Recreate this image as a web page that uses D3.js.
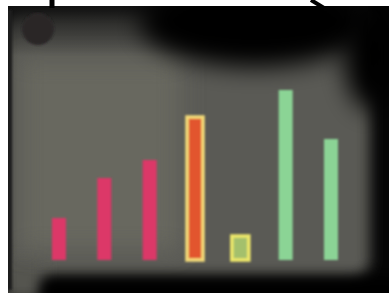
<!DOCTYPE html>
<html>
<head>
<meta charset="utf-8">
<script src="https://cdn.jsdelivr.net/npm/d3@7"></script>
<style>
  body { margin: 0; background: #fff; }
  svg { display: block; }
</style>
</head>
<body>
<div id="chart"></div>
<script>
// bars, left to right
const categories = ['A', 'B', 'C', 'D', 'E', 'F', 'G'];
const values = [42, 82, 100, 143, 24, 170, 121];
const groups = ['pink', 'pink', 'pink', 'orange', 'small', 'green', 'green'];

const width = 389;
const height = 293;

const svg = d3.select('#chart')
    .append('svg')
        .attr('viewBox', [0, 0, width, height])
        .attr('width', width)
        .attr('height', height);

const defs = svg.append('defs');
const blur = (id, sd) => defs.append('filter').attr('id', id)
    .attr('filterUnits', 'userSpaceOnUse')
    .attr('x', -100).attr('y', -100).attr('width', width + 200).attr('height', height + 200)
    .append('feGaussianBlur').attr('stdDeviation', sd);
blur('blurBig', 12);
blur('blurMid', 7);
blur('soft', 0.8);

const clip = defs.append('clipPath').attr('id', 'screenClip');
clip.append('rect')
    .attr('x', 8).attr('y', 6).attr('width', width - 8).attr('height', height - 6);

// top shade of the glass
const topShade = defs.append('linearGradient')
    .attr('id', 'topShade')
    .attr('x1', 0).attr('y1', 0).attr('x2', 0).attr('y2', 1);
topShade.append('stop').attr('offset', '0%').attr('stop-color', '#111').attr('stop-opacity', 0.9);
topShade.append('stop').attr('offset', '100%').attr('stop-color', '#111').attr('stop-opacity', 0);

// screen background: black frame, grey glass, dark patches on top
const screen = svg.append('g').attr('clip-path', 'url(#screenClip)');
screen.append('rect')
    .attr('x', 8).attr('y', 6).attr('width', width - 8).attr('height', height - 6)
    .attr('fill', '#050505');
screen.append('rect')
    .attr('x', 4).attr('y', 10).attr('width', 366).attr('height', 270)
    .attr('rx', 20)
    .attr('fill', '#5a5a54')
    .attr('filter', 'url(#blurMid)');
screen.append('rect')
    .attr('x', 4).attr('y', 260).attr('width', 40).attr('height', 40)
    .attr('fill', '#555550')
    .attr('filter', 'url(#blurMid)');
screen.append('rect')
    .attr('x', 20).attr('y', 60).attr('width', 160).attr('height', 190)
    .attr('fill', '#67675f')
    .attr('filter', 'url(#blurBig)');
screen.append('rect')
    .attr('x', 8).attr('y', 6).attr('width', 360).attr('height', 50)
    .attr('fill', 'url(#topShade)');
screen.append('ellipse')
    .attr('cx', 255).attr('cy', 22).attr('rx', 115).attr('ry', 45)
    .attr('fill', '#030303')
    .attr('filter', 'url(#blurBig)');
screen.append('ellipse')
    .attr('cx', 372).attr('cy', 55).attr('rx', 28).attr('ry', 55)
    .attr('fill', '#030303')
    .attr('filter', 'url(#blurBig)');
screen.append('rect')
    .attr('x', 40).attr('y', 276).attr('width', 360).attr('height', 30)
    .attr('rx', 12)
    .attr('fill', '#020202')
    .attr('filter', 'url(#blurMid)');
screen.append('rect')
    .attr('x', 6).attr('y', 10).attr('width', 6).attr('height', 280)
    .attr('fill', '#1e1e1c')
    .attr('filter', 'url(#soft)');
screen.append('circle')
    .attr('cx', 38).attr('cy', 29).attr('r', 16)
    .attr('fill', '#2a2628')
    .attr('filter', 'url(#soft)');

// the wires at the top of the photo
svg.append('line')
    .attr('x1', 52).attr('y1', 0).attr('x2', 52).attr('y2', 8)
    .attr('stroke', '#000').attr('stroke-width', 5);
svg.append('line')
    .attr('x1', 311).attr('y1', 0).attr('x2', 324).attr('y2', 8)
    .attr('stroke', '#000').attr('stroke-width', 4);

const x = d3.scalePoint()
    .domain(categories)
    .range([59, 331]);
const y = d3.scaleLinear()
    .domain([0, 172])
    .range([260, 88]);

const fillColor = d3.scaleOrdinal()
    .domain(['pink', 'orange', 'small', 'green'])
    .range(['#dc3868', '#e2552e', '#a4c06c', '#8bd495']);
const strokeColor = d3.scaleOrdinal()
    .domain(['pink', 'orange', 'small', 'green'])
    .range(['none', '#f4dc78', '#eee86a', 'none']);

const barWidth = d => groups[d] === 'small' ? 17 : groups[d] === 'orange' ? 16 : 14;

svg.append('g')
        .attr('class', 'bars')
        .attr('filter', 'url(#soft)')
    .selectAll('rect')
    .data(d3.range(categories.length))
    .join('rect')
        .attr('x', i => x(categories[i]) - barWidth(i) / 2)
        .attr('y', i => y(values[i]))
        .attr('width', barWidth)
        .attr('height', i => y(0) - y(values[i]))
        .attr('fill', i => fillColor(groups[i]))
        .attr('stroke', i => strokeColor(groups[i]))
        .attr('stroke-width', 3.5);
</script>
</body>
</html>
